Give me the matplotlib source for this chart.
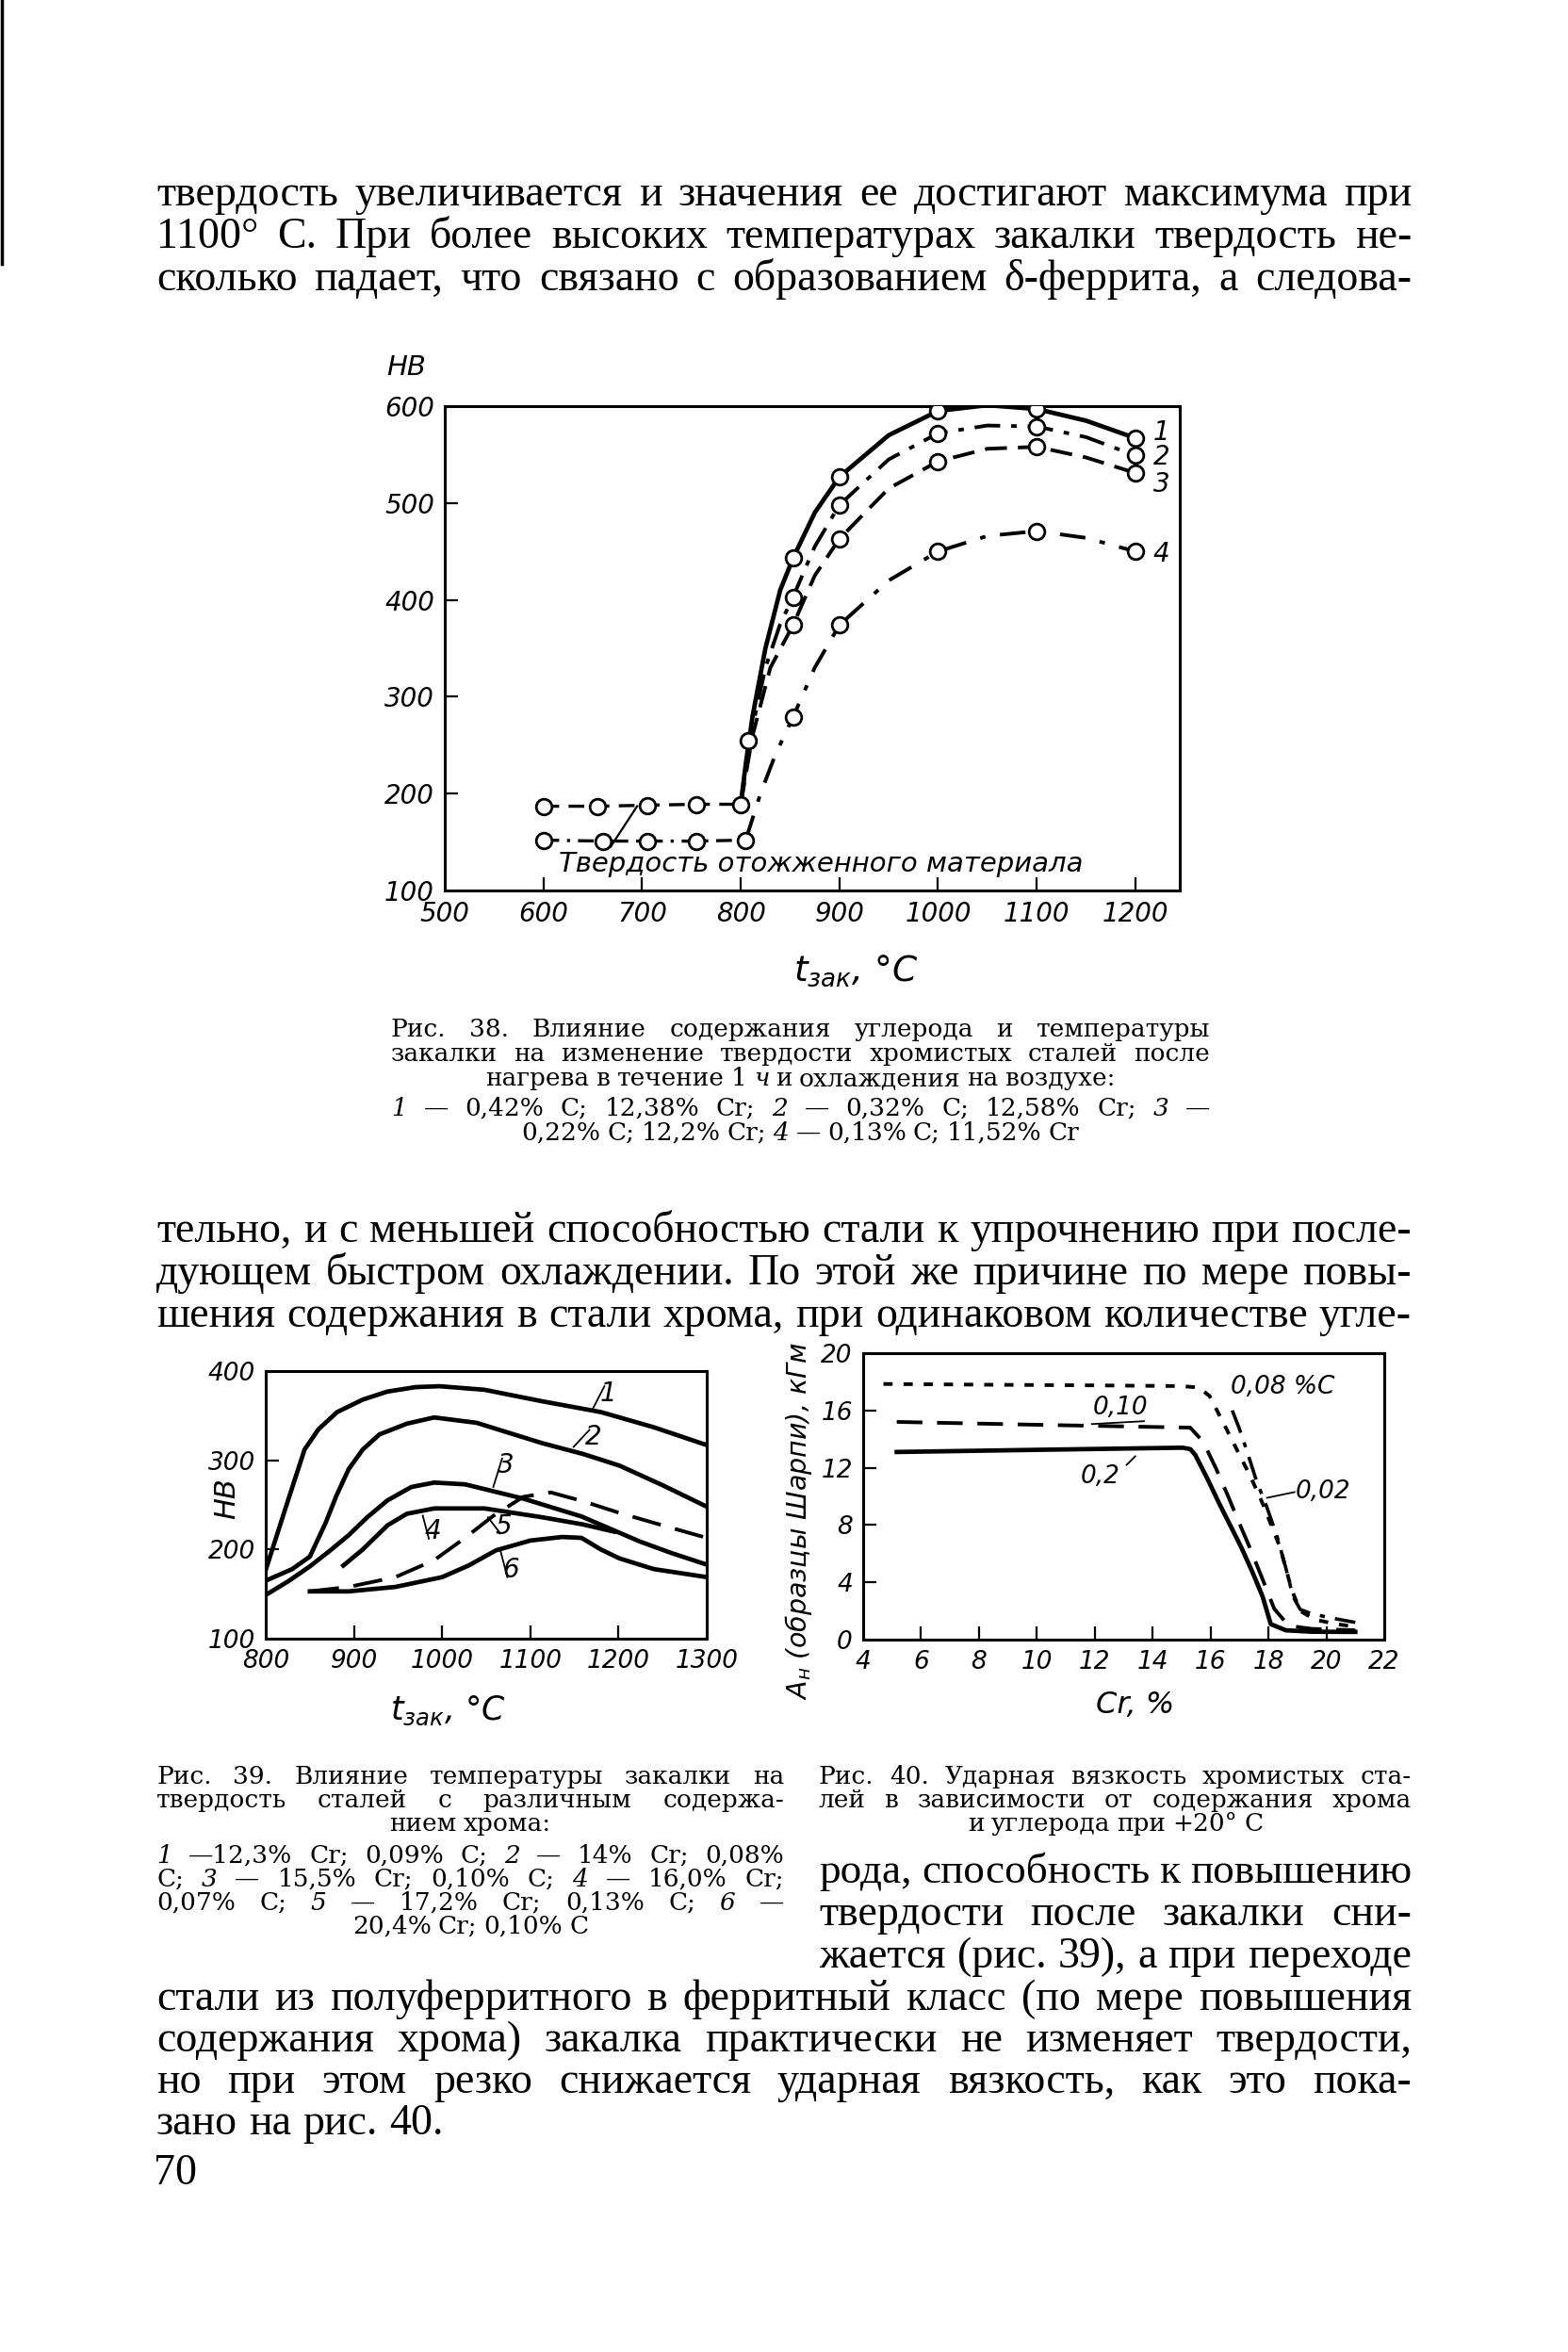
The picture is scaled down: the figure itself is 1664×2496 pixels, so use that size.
import matplotlib
matplotlib.use("Agg")
import matplotlib.pyplot as plt

# ---------------- data: fig. 38 (HB vs quench temperature) ----------------
t38_ann_hi = [600, 655, 705, 755, 800]
hb38_ann_hi = [187, 187, 188, 189, 189]
t38_ann_lo = [600, 660, 705, 755, 805]
hb38_ann_lo = [152, 151, 151, 151, 152]

# measured points (circles)
t38_m1 = [808, 853, 900, 1000, 1100, 1200]
hb38_m1 = [255, 443, 527, 595, 597, 567]
t38_m2 = [853, 900, 1000, 1100, 1200]
hb38_m2 = [403, 498, 572, 579, 549]
t38_m3 = [853, 900, 1000, 1100, 1200]
hb38_m3 = [374, 463, 543, 558, 531]
t38_m4 = [853, 900, 1000, 1100, 1200]
hb38_m4 = [279, 374, 450, 471, 450]

# traced curves
t38_c1 = [800, 805, 812, 825, 840, 853, 875, 900, 950, 1000, 1050, 1100, 1150, 1200]
hb38_c1 = [189, 230, 280, 350, 410, 443, 490, 527, 570, 595, 601, 597, 585, 567]
t38_c2 = [800, 810, 825, 840, 853, 875, 900, 950, 1000, 1050, 1100, 1150, 1200]
hb38_c2 = [189, 260, 330, 375, 403, 455, 498, 545, 572, 580, 579, 568, 549]
t38_c3 = [800, 812, 830, 853, 875, 900, 950, 1000, 1050, 1100, 1150, 1200]
hb38_c3 = [189, 260, 330, 374, 425, 463, 515, 543, 556, 558, 547, 531]
t38_c4 = [805, 820, 835, 853, 875, 900, 950, 1000, 1050, 1100, 1150, 1200]
hb38_c4 = [152, 200, 240, 279, 330, 374, 420, 450, 466, 471, 464, 450]

x38_ticks = [500, 600, 700, 800, 900, 1000, 1100, 1200]
y38_ticks = [100, 200, 300, 400, 500, 600]

# ---------------- data: fig. 39 ----------------
t39_c1 = [800, 822, 844, 860, 881, 910, 938, 970, 997, 1048, 1114, 1180, 1240, 1300]
hb39_c1 = [177, 245, 312, 335, 354, 368, 377, 382, 383, 379, 366, 354, 337, 317]
t39_c2 = [800, 830, 850, 868, 880, 894, 910, 929, 960, 991, 1039, 1114, 1160, 1201, 1250, 1300]
hb39_c2 = [165, 178, 192, 230, 260, 290, 312, 329, 341, 348, 342, 319, 307, 294, 272, 248]
t39_c3 = [800, 825, 850, 872, 894, 915, 938, 965, 991, 1026, 1092, 1158, 1224, 1260, 1300]
hb39_c3 = [149, 164, 181, 198, 216, 236, 255, 270, 275, 273, 257, 237, 209, 196, 183]
t39_c4 = [888, 910, 938, 960, 991, 1048, 1114, 1160, 1195]
hb39_c4 = [182, 200, 227, 240, 246, 246, 236, 228, 220]
t39_c5 = [850, 894, 947, 991, 1026, 1057, 1092, 1123, 1160, 1201, 1250, 1300]
hb39_c5 = [153, 158, 169, 188, 213, 237, 259, 264, 254, 241, 227, 213]
t39_c6 = [850, 894, 947, 1000, 1030, 1061, 1100, 1136, 1158, 1180, 1201, 1240, 1300]
hb39_c6 = [153, 153, 158, 169, 182, 199, 210, 214, 213, 200, 190, 178, 169]

x39_ticks = [800, 900, 1000, 1100, 1200, 1300]
y39_ticks = [100, 200, 300, 400]

# ---------------- data: fig. 40 (impact strength vs Cr) ----------------
cr40_002 = [16.75, 17.0, 17.3, 17.6, 17.9, 18.3, 18.6, 18.85, 19.1, 19.5, 20.2, 21.0]
a40_002 = [16.0, 14.7, 12.9, 11.0, 9.5, 7.2, 5.0, 3.0, 2.1, 1.8, 1.5, 1.2]
cr40_008 = [4.7, 8, 12, 15.0, 15.6, 15.97, 16.4, 16.9, 17.4, 17.8, 18.4, 18.8, 19.1, 19.6, 20.3, 21.0]
a40_008 = [17.85, 17.8, 17.75, 17.7, 17.6, 17.0, 15.3, 13.3, 11.3, 9.5, 6.45, 3.5, 2.0, 1.4, 1.1, 0.9]
cr40_010 = [5.16, 10, 15.3, 15.75, 16.2, 16.63, 17.0, 17.35, 17.8, 18.2, 18.7, 19.5, 21.0]
a40_010 = [15.2, 15.0, 14.8, 13.8, 11.9, 9.9, 8.1, 6.45, 4.2, 2.15, 0.97, 0.75, 0.65]
cr40_02 = [5.16, 10, 15.03, 15.3, 15.47, 15.9, 16.3, 16.7, 17.06, 17.45, 17.8, 18.08, 18.6, 19.5, 21.0]
a40_02 = [13.1, 13.25, 13.4, 13.3, 12.9, 11.2, 9.5, 7.9, 6.45, 4.7, 3.0, 1.08, 0.65, 0.55, 0.54]

x40_ticks = [4, 6, 8, 10, 12, 14, 16, 18, 20, 22]
y40_ticks = [0, 4, 8, 12, 16, 20]

# ---------------- page text ----------------
top_lines = [
    "твердость увеличивается и значения ее достигают максимума при",
    "1100° С. При более высоких температурах закалки твердость не-",
    "сколько падает, что связано с образованием δ-феррита, а следова-",
]
cap38_lines = [
    "Рис. 38. Влияние содержания углерода и температуры",
    "закалки на изменение твердости хромистых сталей после",
    "нагрева в течение 1 *ч и охлаждения на воздухе:",
    "*1 — 0,42% С; 12,38% Cr; *2 — 0,32% С; 12,58% Cr; *3 —",
    "0,22% С; 12,2% Cr; *4 — 0,13% С; 11,52% Cr",
]
mid_lines = [
    "тельно, и с меньшей способностью стали к упрочнению при после-",
    "дующем быстром охлаждении. По этой же причине по мере повы-",
    "шения содержания в стали хрома, при одинаковом количестве угле-",
]
cap39_lines = [
    "Рис. 39. Влияние температуры закалки на",
    "твердость сталей с различным содержа-",
    "нием хрома:",
    "*1 —12,3% Cr; 0,09% С; *2 — 14% Cr; 0,08%",
    "С; *3 — 15,5% Cr; 0,10% С; *4 — 16,0% Cr;",
    "0,07% С; *5 — 17,2% Cr; 0,13% С; *6 —",
    "20,4% Cr; 0,10% С",
]
cap40_lines = [
    "Рис. 40. Ударная вязкость хромистых ста-",
    "лей в зависимости от содержания хрома",
    "и углерода при +20° С",
]
right_lines = [
    "рода, способность к повышению",
    "твердости после закалки сни-",
    "жается (рис. 39), а при переходе",
]
bottom_lines = [
    "стали из полуферритного в ферритный класс (по мере повышения",
    "содержания хрома) закалка практически не изменяет твердости,",
    "но при этом резко снижается ударная вязкость, как это пока-",
    "зано на рис. 40.",
]

W, H = 1664, 2496
fig = plt.figure(figsize=(W / 100, H / 100), dpi=100)
fig.patch.set_facecolor("white")
rend = fig.canvas.get_renderer()

SERIF = "Liberation Serif"
CAPF = "DejaVu Serif"
SANS = "DejaVu Sans"


def put_line(text, y, x0, x1, size, family=SERIF, mode="justify"):
    words = text.split(" ")
    while True:
        arts = []
        for w in words:
            style = "normal"
            if w.startswith("*"):
                w, style = w[1:], "italic"
            arts.append(fig.text(0, 0, w, fontsize=size, family=family,
                                 style=style, va="baseline", ha="left"))
        widths = [a.get_window_extent(rend).width for a in arts]
        space = 0.27 * size * 100 / 72
        n = len(words)
        if mode == "justify" and n > 1:
            gap = (x1 - x0 - sum(widths)) / (n - 1)
            if gap < 0.6 * space and size > 8:
                for a in arts:
                    a.remove()
                size -= 0.5
                continue
            x = x0
        elif mode == "center":
            gap = space
            x = (x0 + x1) / 2 - (sum(widths) + gap * (n - 1)) / 2
        else:
            gap = space
            x = x0
        break
    for a, w in zip(arts, widths):
        a.set_position((x / W, 1 - y / H))
        x += w + gap


# body text
BODY = 33
for i, s in enumerate(top_lines):
    put_line(s, 218 + i * 45, 166, 1498, BODY)
for i, s in enumerate(mid_lines):
    put_line(s, 1318 + i * 45, 166, 1498, BODY)
for i, s in enumerate(right_lines):
    put_line(s, 1998 + i * 45, 869, 1498, BODY)
for i, s in enumerate(bottom_lines):
    put_line(s, 2133 + i * 44, 166, 1498, BODY, mode="justify" if i < 3 else "left")
fig.text(163 / W, 1 - 2318 / H, "70", fontsize=BODY, family=SERIF, va="baseline")

# captions
CAP = 19
cap38_y = [1100, 1126, 1152, 1184, 1210]
for s, y in zip(cap38_lines, cap38_y):
    mode = "center" if s.startswith("нагрева") or s.startswith("0,22") else "justify"
    put_line(s, y, 415, 1284, CAP, family=CAPF, mode=mode)
cap39_y = [1893, 1918, 1943, 1977, 2002, 2027, 2052]
for i, (s, y) in enumerate(zip(cap39_lines, cap39_y)):
    put_line(s, y, 166, 832, CAP, family=CAPF, mode="center" if i in (2, 6) else "justify")
cap40_y = [1893, 1918, 1943]
for i, (s, y) in enumerate(zip(cap40_lines, cap40_y)):
    put_line(s, y, 869, 1498, CAP, family=CAPF, mode="center" if i == 2 else "justify")

# scan edge line on the left
fig.add_artist(plt.Line2D([2 / W, 2 / W], [1, 1 - 280 / H], color="black", lw=2.5))


def style_axes(ax, xt, yt, inner_x, inner_y, size=19):
    ax.set_xticks(xt, [str(v) for v in xt], fontstyle="italic", family=SANS, fontsize=size)
    ax.set_yticks(yt, [str(v) for v in yt], fontstyle="italic", family=SANS, fontsize=size)
    ax.tick_params(direction="in", length=10, width=1.6, pad=8)
    for s in ax.spines.values():
        s.set_linewidth(2.2)
    for tk, v in zip(ax.xaxis.get_major_ticks(), xt):
        tk.tick1line.set_visible(v in inner_x)
    for tk, v in zip(ax.yaxis.get_major_ticks(), yt):
        tk.tick1line.set_visible(v in inner_y)


# ---------------- fig. 38 ----------------
ax38 = fig.add_axes([472 / W, 1 - 945 / H, (1252 - 472) / W, (945 - 431) / H])
ax38.set_xlim(500, 1245)
ax38.set_ylim(100, 600)
style_axes(ax38, x38_ticks, y38_ticks, [600, 700, 800, 900, 1000, 1100, 1200], [200, 300, 400, 500], 20)

mk = dict(marker="o", ms=12, mfc="white", mec="black", mew=2, ls="none", zorder=5)
ax38.plot(t38_ann_hi, hb38_ann_hi, color="black", lw=2.4, ls=(0, (5, 3)))
ax38.plot(t38_ann_hi, hb38_ann_hi, **mk)
ax38.plot(t38_ann_lo, hb38_ann_lo, color="black", lw=2.4, ls=(0, (5, 2.5, 1, 2.5)))
ax38.plot(t38_ann_lo, hb38_ann_lo, **mk)

ax38.plot(t38_c1, hb38_c1, color="black", lw=3.4)
ax38.plot(t38_c2, hb38_c2, color="black", lw=2.8, ls=(0, (7, 3, 1.5, 3)))
ax38.plot(t38_c3, hb38_c3, color="black", lw=2.8, ls=(0, (6, 3)))
ax38.plot(t38_c4, hb38_c4, color="black", lw=2.8, ls=(0, (7, 4, 1.5, 4)))
for tx, hy in [(t38_m1, hb38_m1), (t38_m2, hb38_m2), (t38_m3, hb38_m3), (t38_m4, hb38_m4)]:
    ax38.plot(tx, hy, **mk)

for lab, yv in [("1", 573), ("2", 547), ("3", 519), ("4", 447)]:
    ax38.text(1218, yv, lab, fontsize=20, style="italic", family=SANS, va="center", ha="left")
ax38.text(616, 127, "Твердость отожженного материала", fontsize=21, style="italic",
          family=SANS, va="center", ha="left")
ax38.plot([668, 695], [145, 187], color="black", lw=1.6)

fig.text(431 / W, 1 - 390 / H, "НВ", fontsize=21, style="italic", family=SANS, ha="center", va="center")
fig.text(908 / W, 1 - 1030 / H, "$t_{зак}$, °С", fontsize=27, style="italic", family=SANS,
         ha="center", va="center")

# ---------------- fig. 39 ----------------
ax39 = fig.add_axes([282 / W, 1 - 1739 / H, (750 - 282) / W, (1739 - 1455) / H])
ax39.set_xlim(800, 1300)
ax39.set_ylim(100, 400)
style_axes(ax39, x39_ticks, y39_ticks, [900, 1000, 1100, 1200], [200, 300])

for tx, hy in [(t39_c1, hb39_c1), (t39_c2, hb39_c2), (t39_c3, hb39_c3),
               (t39_c4, hb39_c4), (t39_c6, hb39_c6)]:
    ax39.plot(tx, hy, color="black", lw=3.4)
ax39.plot(t39_c5, hb39_c5, color="black", lw=2.8, ls=(0, (8, 4)))

lab39 = [("1", 1188, 375, (1171, 358)), ("2", 1171, 326, (1149, 315)),
         ("3", 1072, 294, (1058, 270)), ("4", 989, 220, (978, 238)),
         ("5", 1070, 226, (1052, 236)), ("6", 1078, 177, (1066, 199))]
for lab, xv, yv, (px_, py_) in lab39:
    ax39.text(xv, yv, lab, fontsize=20, style="italic", family=SANS, ha="center", va="center")
    ax39.plot([px_, xv - 4], [py_, yv + (8 if yv > py_ else -8)], color="black", lw=1.3)

fig.text(241 / W, 1 - 1590 / H, "НВ", fontsize=22, style="italic", family=SANS,
         rotation=90, ha="center", va="center")
fig.text(475 / W, 1 - 1815 / H, "$t_{зак}$, °С", fontsize=25, style="italic", family=SANS,
         ha="center", va="center")

# ---------------- fig. 40 ----------------
ax40 = fig.add_axes([916 / W, 1 - 1740 / H, (1469 - 916) / W, (1740 - 1436) / H])
ax40.set_xlim(4, 22)
ax40.set_ylim(0, 20)
style_axes(ax40, x40_ticks, y40_ticks, [6, 8, 10, 12, 14, 16, 18, 20], [4, 8, 12, 16])

ax40.plot(cr40_02, a40_02, color="black", lw=3.4)
ax40.plot(cr40_010, a40_010, color="black", lw=2.8, ls=(0, (7, 4)))
ax40.plot(cr40_008, a40_008, color="black", lw=2.8, ls=(0, (2.5, 3)))
ax40.plot(cr40_002, a40_002, color="black", lw=2.6, ls=(0, (7, 3, 1.5, 3)))

ax40.text(18.5, 17.6, "0,08 %С", fontsize=19, style="italic", family=SANS, ha="center", va="center")
ax40.text(12.9, 16.2, "0,10", fontsize=19, style="italic", family=SANS, ha="center", va="center")
ax40.plot([11.9, 13.7], [15.05, 15.25], color="black", lw=1.3)
ax40.text(12.2, 11.4, "0,2", fontsize=19, style="italic", family=SANS, ha="center", va="center")
ax40.plot([13.1, 13.4], [12.2, 12.8], color="black", lw=1.3)
ax40.text(19.9, 10.3, "0,02", fontsize=19, style="italic", family=SANS, ha="center", va="center")
ax40.plot([17.95, 18.9], [9.9, 10.3], color="black", lw=1.3)

fig.text(848 / W, 1 - 1614 / H, "$A_н$ (образцы Шарпи), кГм", fontsize=20.5, style="italic",
         family=SANS, rotation=90, ha="center", va="center")
fig.text(1205 / W, 1 - 1810 / H, "Cr, %", fontsize=23, style="italic", family=SANS,
         ha="center", va="center")

fig.savefig("out.png", dpi=100, facecolor="white")
